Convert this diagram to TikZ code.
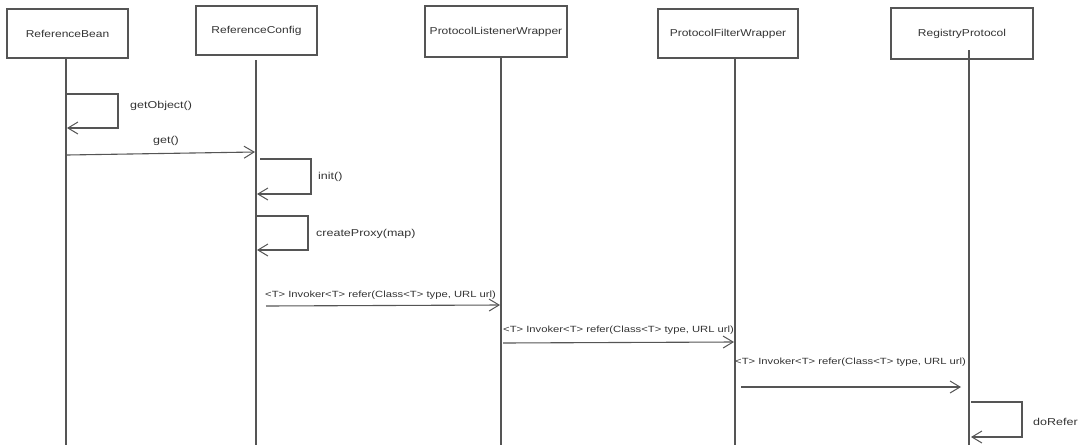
\documentclass[tikz,border=0pt]{standalone}
\usepackage{fontspec}
\setmainfont{Liberation Sans}
\newfontfamily\boxfont[FakeStretch=1.2]{Liberation Sans}
\newfontfamily\lblfont[FakeStretch=1.25]{Liberation Sans}
\usetikzlibrary{arrows.meta}
\definecolor{ink}{HTML}{555555}
\definecolor{txt}{HTML}{333333}
\begin{document}
\begin{tikzpicture}[x=1pt,y=-1pt,
  lifebox/.style={draw=ink,line width=1.1pt,rectangle,minimum height=49pt,inner sep=0pt,text=txt,font=\boxfont\fontsize{10}{12}\selectfont},
  lifeline/.style={draw=ink,line width=1.1pt},
  msg/.style={draw=ink,line width=1.1pt,-{Straight Barb[length=10pt,width=12pt,line width=1pt]}},
  lbl/.style={text=txt,inner sep=0pt,font=\lblfont\fontsize{10}{12}\selectfont},
  slbl/.style={text=txt,inner sep=0pt,font=\lblfont\fontsize{9}{11}\selectfont}]
\useasboundingbox (0,0) rectangle (1080,445);
% boxes
\node[lifebox,minimum width=121pt] (rb) at (67.5,33.5) {ReferenceBean};
\node[lifebox,minimum width=121pt] (rc) at (256.5,30.5) {ReferenceConfig};
\node[lifebox,minimum width=142pt,minimum height=51pt] (plw) at (496,31.5) {ProtocolListenerWrapper};
\node[lifebox,minimum width=140pt] (pfw) at (728,33.5) {ProtocolFilterWrapper};
\node[lifebox,minimum width=142pt,minimum height=51pt] (rp) at (962,33.5) {RegistryProtocol};
% lifeline ends
\coordinate (rbT) at (66,58); \coordinate (rbB) at (66,445);
\coordinate (rcT) at (256,60); \coordinate (rcB) at (256,445);
\coordinate (plwT) at (501,57); \coordinate (plwB) at (501,445);
\coordinate (pfwT) at (735,58); \coordinate (pfwB) at (735,445);
\coordinate (rpT) at (969,50); \coordinate (rpB) at (969,445);
\draw[lifeline] (rbT) -- (rbB);
\draw[lifeline] (rcT) -- (rcB);
\draw[lifeline] (plwT) -- (plwB);
\draw[lifeline] (pfwT) -- (pfwB);
\draw[lifeline] (rpT) -- (rpB);
% getObject
\coordinate (g1) at (67,94); \coordinate (g2) at (67,128);
\draw[msg] (g1) -- (118,94) -- (118,128) -- (g2);
\node[lbl,anchor=west] (lgo) at (130,106) {getObject()};
% get
\coordinate (ga) at (67,155); \coordinate (gb) at (255,152);
\draw[msg] (ga) -- (gb);
\node[lbl] (lget) at (166,141) {get()};
% init
\coordinate (i1) at (260,159); \coordinate (i2) at (257,194);
\draw[msg] (i1) -- (311,159) -- (311,194) -- (i2);
\node[lbl,anchor=west] (linit) at (318,177) {init()};
% createProxy
\coordinate (c1) at (257,216); \coordinate (c2) at (257,250);
\draw[msg] (c1) -- (308,216) -- (308,250) -- (c2);
\node[lbl,anchor=west] (lcp) at (316,234) {createProxy(map)};
% refer 1
\coordinate (r1a) at (266,306); \coordinate (r1b) at (500,305);
\draw[msg] (r1a) -- (r1b);
\node[slbl,anchor=west] (lr1) at (265,295) {<T> Invoker<T> refer(Class<T> type, URL url)};
% refer 2
\coordinate (r2a) at (503,343); \coordinate (r2b) at (734,342);
\draw[msg] (r2a) -- (r2b);
\node[slbl,anchor=west] (lr2) at (503,330) {<T> Invoker<T> refer(Class<T> type, URL url)};
% refer 3
\coordinate (r3a) at (741,387); \coordinate (r3b) at (961,387);
\draw[msg] (r3a) -- (r3b);
\node[slbl,anchor=west] (lr3) at (735,362) {<T> Invoker<T> refer(Class<T> type, URL url)};
% doRefer
\coordinate (d1) at (971,402); \coordinate (d2) at (971,437);
\draw[msg] (d1) -- (1022,402) -- (1022,437) -- (d2);
\node[lbl,anchor=west] (ldr) at (1033,422) {doRefer};
\end{tikzpicture}
\end{document}
